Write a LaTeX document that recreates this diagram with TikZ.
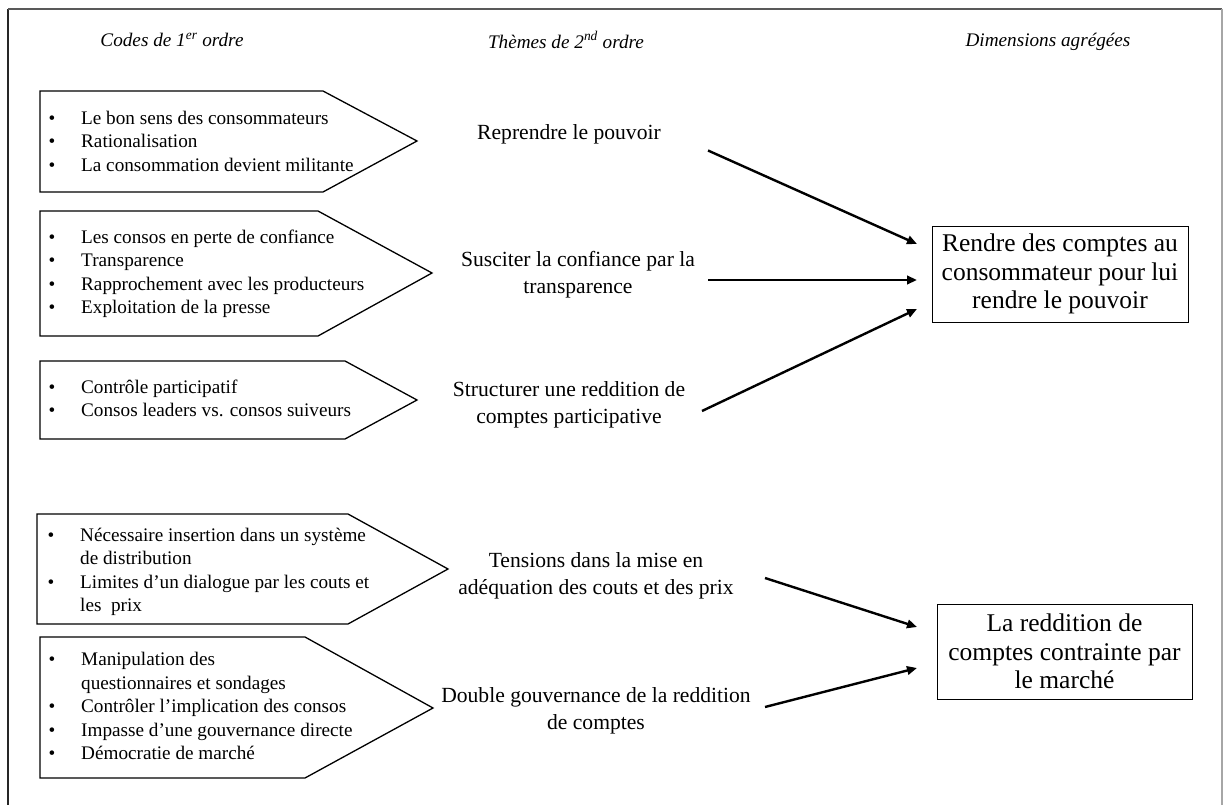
\documentclass[tikz,border=0pt]{standalone}
\usepackage{fontspec}
\setmainfont{Liberation Serif}
\usetikzlibrary{arrows.meta}
\begin{document}
\begin{tikzpicture}[x=1pt,y=-1pt,
  hdr/.style={inner sep=0pt,font=\fontsize{19.2}{23}\selectfont\itshape},
  pent/.style={draw,line width=1.3pt,line join=miter},
  boxtxt/.style={anchor=west,inner sep=0pt,font=\fontsize{19.2}{23.4}\selectfont},
  mid/.style={align=center,inner sep=0pt,font=\fontsize{21.6}{27}\selectfont},
  dim/.style={draw,line width=0.9pt,align=center,inner sep=0pt,font=\fontsize{25.5}{28.5}\selectfont},
  conn/.style={line width=2.4pt,-{Triangle[length=10pt,width=8.5pt]}}]
\useasboundingbox (0,0) rectangle (1224,805);
\fill[white] (0,0) rectangle (1224,805);
% frame
\draw[line width=1.4pt,black!85] (8,815) -- (8,9);
\draw[line width=1.4pt,black!65] (8,9) -- (1222,9);
\draw[line width=1.4pt,black!35] (1222,9) -- (1222,815);
% headers
\node[hdr] (h1) at (172,40) {Codes de 1\textsuperscript{er} ordre};
\node[hdr] (h2) at (566,40) {Thèmes de 2\textsuperscript{nd} ordre};
\node[hdr] (h3) at (1048,42) {Dimensions agrégées};
% pentagons
\draw[pent] (40,91) -- (323,91) -- (417,141) -- (323,192) -- (40,192) -- cycle;
\draw[pent] (40,211) -- (318,211) -- (432,273) -- (318,336) -- (40,336) -- cycle;
\draw[pent] (40,361) -- (345,361) -- (417,400) -- (345,439) -- (40,439) -- cycle;
\draw[pent] (37,514) -- (348,514) -- (448,569) -- (348,624) -- (37,624) -- cycle;
\draw[pent] (40,637) -- (305,637) -- (433,708) -- (305,778) -- (40,778) -- cycle;
% first order codes
\node[boxtxt] (c1) at (48.5,143) {\begin{tabular}{@{}p{32.5pt}@{}l@{}}
\textbullet & Le bon sens des consommateurs\\
\textbullet & Rationalisation\\
\textbullet & La consommation devient militante\end{tabular}};
\node[boxtxt] (c2) at (48.5,274) {\begin{tabular}{@{}p{32.5pt}@{}l@{}}
\textbullet & Les consos en perte de confiance\\
\textbullet & Transparence\\
\textbullet & Rapprochement avec les producteurs\\
\textbullet & Exploitation de la presse\end{tabular}};
\node[boxtxt] (c3) at (48.5,400.5) {\begin{tabular}{@{}p{32.5pt}@{}l@{}}
\textbullet & Contrôle participatif\\
\textbullet & Consos leaders vs. consos suiveurs\end{tabular}};
\node[boxtxt] (c4) at (47.5,572) {\begin{tabular}{@{}p{32.5pt}@{}l@{}}
\textbullet & Nécessaire insertion dans un système\\
 & de distribution\\
\textbullet & Limites d’un dialogue par les couts et\\
 & les\ \ prix\end{tabular}};
\node[boxtxt] (c5) at (48.5,708) {\begin{tabular}{@{}p{32.5pt}@{}l@{}}
\textbullet & Manipulation des\\
 & questionnaires et sondages\\
\textbullet & Contrôler l’implication des consos\\
\textbullet & Impasse d’une gouvernance directe\\
\textbullet & Démocratie de marché\end{tabular}};
% second order themes
\node[mid] (m1) at (569,134) {Reprendre le pouvoir};
\node[mid] (m2) at (578,274.5) {Susciter la confiance par la\\transparence};
\node[mid] (m3) at (569,405) {Structurer une reddition de\\comptes participative};
\node[mid] (m4) at (596,576) {Tensions dans la mise en\\adéquation des couts et des prix};
\node[mid] (m5) at (596,710.5) {Double gouvernance de la reddition\\de comptes};
% aggregate dimensions
\node[dim,minimum width=256pt,minimum height=96pt] (d1) at (1060,274)
  {Rendre des comptes au\\consommateur pour lui\\rendre le pouvoir};
\node[dim,minimum width=255pt,minimum height=95pt] (d2) at (1064.5,651.5)
  {La reddition de\\comptes contrainte par\\le marché};
% connectors
\coordinate (s1) at (708,150.5);
\coordinate (e1) at (917,244);
\coordinate (s2) at (708,280);
\coordinate (e2) at (917,280);
\coordinate (s3) at (702,411);
\coordinate (e3) at (917,309);
\coordinate (s4) at (765,578);
\coordinate (e4) at (917,627);
\coordinate (s5) at (765,707);
\coordinate (e5) at (917,668);
\draw[conn] (s1) -- (e1);
\draw[conn] (s2) -- (e2);
\draw[conn] (s3) -- (e3);
\draw[conn] (s4) -- (e4);
\draw[conn] (s5) -- (e5);
\end{tikzpicture}
\end{document}
